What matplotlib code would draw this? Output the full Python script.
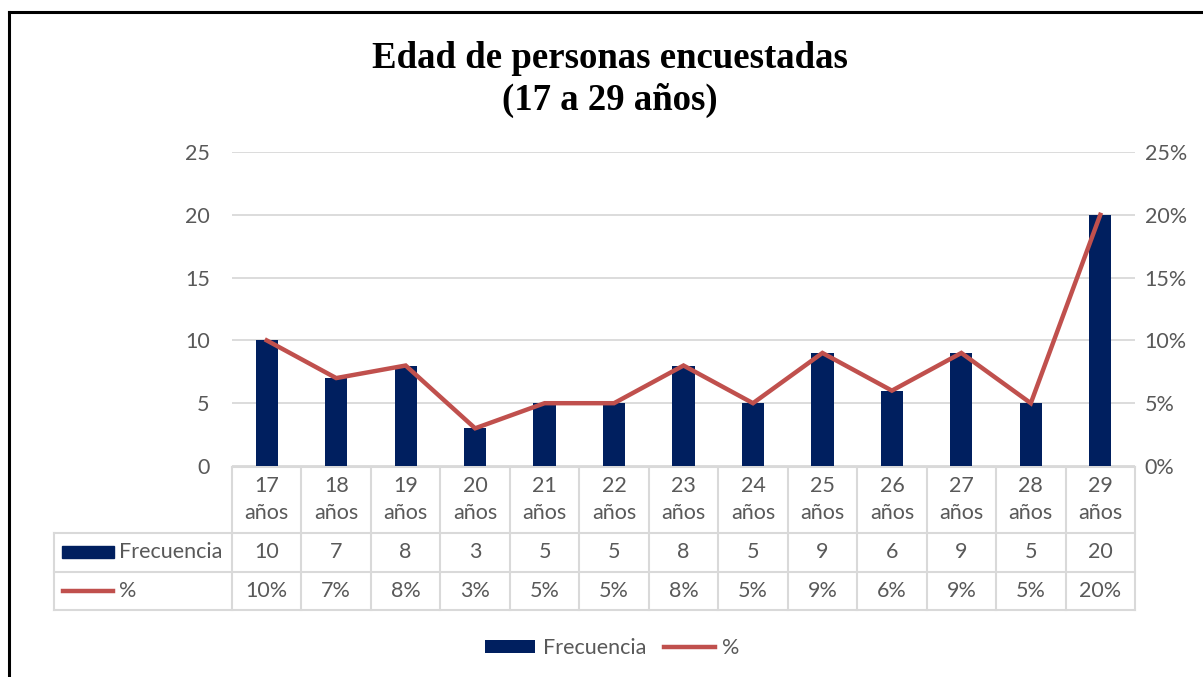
import matplotlib
matplotlib.use("Agg")
import matplotlib.pyplot as plt
from matplotlib.patches import Patch
from matplotlib.lines import Line2D
from matplotlib import transforms

# --- data ---
edades = ["17\naños", "18\naños", "19\naños", "20\naños", "21\naños", "22\naños",
          "23\naños", "24\naños", "25\naños", "26\naños", "27\naños", "28\naños", "29\naños"]
frecuencia = [10, 7, 8, 3, 5, 5, 8, 5, 9, 6, 9, 5, 20]
porcentaje = [0.10, 0.07, 0.08, 0.03, 0.05, 0.05, 0.08, 0.05, 0.09, 0.06, 0.09, 0.05, 0.20]
y_ticks = [0, 5, 10, 15, 20, 25]
y2_ticks = [0, 0.05, 0.10, 0.15, 0.20, 0.25]

BAR = "#001F5F"
LINE = "#C0504D"
GRID = "#D9D9D9"
TXT = "#595959"
FONT = ["Lato", "DejaVu Sans"]
FS = 15.5

W, H = 1203, 677
fig = plt.figure(figsize=(W / 100, H / 100), dpi=100)

def fx(px):
    return px / W

def fy(py):
    return 1 - py / H

# chart border (black, left + top)
fig.add_artist(Line2D([fx(9), fx(9)], [fy(12), 0], color="black", lw=2.2))
fig.add_artist(Line2D([fx(9), 1], [fy(12), fy(12)], color="black", lw=2.2))

fig.text(0.507, fy(58), "Edad de personas encuestadas", ha="center", va="center",
         fontsize=26.5, fontweight="bold", family="Liberation Serif")
fig.text(0.507, fy(100), "(17 a 29 años)", ha="center", va="center",
         fontsize=26.5, fontweight="bold", family="Liberation Serif")

left, right, top, bottom = 232, 1135, 152, 466
ax = fig.add_axes([fx(left), fy(bottom), fx(right - left), (bottom - top) / H])
x = list(range(len(frecuencia)))
ax.bar(x, frecuencia, width=0.32, color=BAR, zorder=2)
ax.set_xlim(-0.5, len(x) - 0.5)
ax.set_ylim(0, 25)
ax.set_yticks(y_ticks)
ax.set_xticks([])
for s in ax.spines.values():
    s.set_visible(False)
ax.grid(axis="y", color=GRID, lw=1.3, zorder=0)
ax.tick_params(axis="y", length=0, pad=16, labelsize=FS, labelcolor=TXT)
for lab in ax.get_yticklabels():
    lab.set_family(FONT)

ax2 = ax.twinx()
ax2.plot(x, porcentaje, color=LINE, lw=3.2, solid_joinstyle="miter", zorder=3)
ax2.set_ylim(0, 0.25)
ax2.set_yticks(y2_ticks)
ax2.set_yticklabels([f"{v:.0%}" for v in y2_ticks])
for s in ax2.spines.values():
    s.set_visible(False)
ax2.tick_params(axis="y", length=0, pad=7, labelsize=FS, labelcolor=TXT)
for lab in ax2.get_yticklabels():
    lab.set_family(FONT)

# --- data table ---
tr = transforms.blended_transform_factory(ax.transData, fig.transFigure)
tb = dict(color=GRID, lw=1.5, clip_on=False, transform=tr, zorder=1)
r0, r1, r2, r3 = fy(467), fy(533), fy(572), fy(610)
n = len(x)
xl = ax.transData.inverted().transform((fig.transFigure.transform((fx(54), 0))[0], 0))[0]
ax.plot([-0.5, n - 0.5], [r0, r0], **tb)
ax.plot([xl, n - 0.5], [r1, r1], **tb)
ax.plot([xl, n - 0.5], [r2, r2], **tb)
ax.plot([xl, n - 0.5], [r3, r3], **tb)
ax.plot([xl, xl], [r1, r3], **tb)
for i in range(n + 1):
    ax.plot([i - 0.5, i - 0.5], [r0, r3], **tb)

txt = dict(ha="center", va="center", fontsize=FS, color=TXT, family=FONT,
           transform=tr, clip_on=False)
for i in range(n):
    ax.text(i, (r0 + r1) / 2 + 0.5 / H, edades[i], linespacing=1.4, **txt)
    ax.text(i, (r1 + r2) / 2, str(frecuencia[i]), **txt)
    ax.text(i, (r2 + r3) / 2, f"{porcentaje[i]:.0%}", **txt)

# row labels with keys
fig.add_artist(plt.Rectangle((fx(62), fy(558)), fx(52), 12 / H, color=BAR))
fig.text(fx(119), (r1 + r2) / 2, "Frecuencia", ha="left", va="center",
         fontsize=FS, color=TXT, family=FONT)
fig.add_artist(Line2D([fx(63), fx(113)], [fy(591), fy(591)], color=LINE, lw=3.2))
fig.text(fx(119), (r2 + r3) / 2, "%", ha="left", va="center",
         fontsize=FS, color=TXT, family=FONT)

# legend
handles = [Patch(facecolor=BAR, label="Frecuencia"),
           Line2D([0], [0], color=LINE, lw=3.2, label="%")]
leg = fig.legend(handles=handles, loc="center", bbox_to_anchor=(0.509, fy(648)),
                 ncol=2, frameon=False, handlelength=2.35, handleheight=0.6,
                 columnspacing=0.8, handletextpad=0.37,
                 prop={"family": FONT, "size": FS})
for t in leg.get_texts():
    t.set_color(TXT)

fig.savefig("out.png", dpi=100)
